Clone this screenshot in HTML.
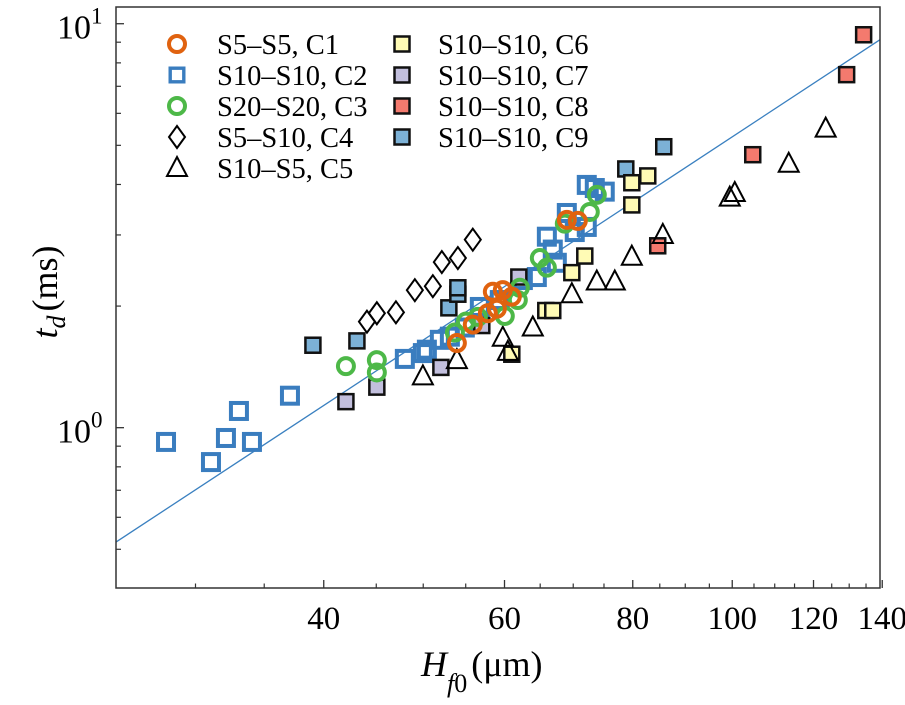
<!DOCTYPE html>
<html><head><meta charset="utf-8"><style>
html,body{margin:0;padding:0;background:#fff;}
svg{display:block;font-family:"Liberation Serif",serif;}
</style></head><body>
<svg id="chart" width="905" height="705" viewBox="0 0 905 705" xmlns="http://www.w3.org/2000/svg">
<rect x="0" y="0" width="905" height="705" fill="#fff"/>
<g id="marks"></g>
<g id="axes"></g>
<g id="legend"></g>
<text x="421" y="676" font-size="36" font-style="italic">H<tspan font-size="26" dy="16">f</tspan><tspan font-size="26" font-style="normal">0</tspan><tspan dy="-16" font-style="normal" dx="4">(μm)</tspan></text>
<text transform="translate(57,292) rotate(-90)" text-anchor="middle" font-size="36"><tspan font-style="italic">t</tspan><tspan font-style="italic" font-size="26" dy="8">d</tspan><tspan dy="-8" dx="4">(ms)</tspan></text>
</svg>
<script>
// ---- data ----
const xDomain = [25.1, 139.3];
const yDomain = [0.401, 11.0];
const xTickLabels = [40, 60, 80, 100, 120, 140];
const xMinorTicks = [30, 35, 45, 50, 55, 65, 70, 75, 85, 90, 95, 105, 110, 115, 125, 130, 135];
const yTickLabels = [1, 10];
const yMinorTicks = [0.5, 0.6, 0.7, 0.8, 0.9, 2, 3, 4, 5, 6, 7, 8, 9];
const fitX = [25.1, 139.3];
const fitY = [0.521, 9.13];

const c1X = [53.92, 55.88, 57.80, 58.98, 58.45, 59.77, 60.99, 69.00, 70.72];
const c1Y = [1.62, 1.80, 1.92, 1.97, 2.17, 2.19, 2.11, 3.27, 3.25];
const c2X = [28.08, 31.06, 32.12, 33.07, 34.05, 37.08, 47.98, 49.96, 51.90, 50.41, 53.08, 54.89, 56.77, 59.37, 62.52, 64.51, 67.47, 66.86, 65.98, 69.00, 72.16, 72.16, 75.13, 73.47, 70.24];
const c2Y = [0.922, 0.822, 0.943, 1.10, 0.922, 1.20, 1.48, 1.53, 1.65, 1.56, 1.68, 1.77, 1.99, 2.07, 2.32, 2.36, 2.56, 2.76, 2.97, 3.40, 3.14, 3.99, 3.84, 3.92, 3.05];
const c3X = [42.04, 45.06, 45.06, 53.68, 55.02, 56.52, 60.04, 61.82, 62.10, 64.95, 65.98, 68.69, 72.65, 73.80];
const c3Y = [1.42, 1.47, 1.37, 1.72, 1.83, 1.88, 1.89, 2.07, 2.22, 2.63, 2.49, 3.20, 3.42, 3.77];
const c4X = [44.07, 45.06, 47.03, 49.07, 51.09, 52.13, 54.04, 55.88];
const c4Y = [1.83, 1.92, 1.93, 2.19, 2.24, 2.57, 2.63, 2.92];
const c5X = [49.96, 53.92, 59.77, 60.45, 63.93, 69.78, 73.80, 76.84, 79.83, 85.58, 99.45, 100.57, 113.51, 123.32];
const c5Y = [1.34, 1.47, 1.67, 1.54, 1.77, 2.14, 2.30, 2.30, 2.65, 3.00, 3.71, 3.81, 4.50, 5.50];
const c6X = [60.99, 65.82, 66.86, 69.78, 71.84, 79.83, 79.83, 82.74];
const c6Y = [1.52, 1.95, 1.95, 2.42, 2.66, 3.56, 4.04, 4.20];
const c7X = [42.04, 45.06, 52.02, 57.02, 61.96];
const c7Y = [1.16, 1.26, 1.41, 1.79, 2.36];
const c8X = [84.61, 104.71, 129.26, 134.28];
const c8Y = [2.82, 4.74, 7.48, 9.39];
const c9X = [39.04, 43.09, 52.96, 54.04, 54.04, 78.76, 85.76];
const c9Y = [1.60, 1.64, 1.98, 2.14, 2.22, 4.37, 4.96];

// ---- layout ----
const L = 116, R = 880, T = 7, B = 588;
const NS = 'http://www.w3.org/2000/svg';
function sx(v){ return L + (Math.log(v) - Math.log(xDomain[0])) / (Math.log(xDomain[1]) - Math.log(xDomain[0])) * (R - L); }
function sy(v){ return B - (Math.log(v) - Math.log(yDomain[0])) / (Math.log(yDomain[1]) - Math.log(yDomain[0])) * (B - T); }
function mk(tag, attrs, parent){ const e = document.createElementNS(NS, tag); for (const k in attrs) e.setAttribute(k, attrs[k]); parent.appendChild(e); return e; }

const marks = document.getElementById('marks');
const axes = document.getElementById('axes');
const legend = document.getElementById('legend');

mk('clipPath', {id:'clip'}, marks);
mk('rect', {x:L, y:T, width:R-L, height:B-T}, document.getElementById('clip'));
const fit = mk('line', {x1:sx(fitX[0]), y1:sy(fitY[0]), x2:sx(fitX[1]), y2:sy(fitY[1]), stroke:'#3a80c0', 'stroke-width':1.3, 'clip-path':'url(#clip)'}, marks);



function drawMarker(kind, cx, cy, parent, size){
  let e;
  const s = size || 1;
  if (kind === 'c1' || kind === 'c3') {
    e = mk('circle', {cx:cx, cy:cy, r:8*s, fill:'none', stroke: kind==='c1' ? '#e0620f' : '#4db848', 'stroke-width':4*s}, parent);
  } else if (kind === 'c2') {
    const h = 8*s;
    e = mk('rect', {x:cx-h, y:cy-h, width:2*h, height:2*h, fill:'none', stroke:'#3a7dbf', 'stroke-width':4*s}, parent);
  } else if (kind === 'c4') {
    e = mk('polygon', {points:`${cx},${cy-11*s} ${cx+8*s},${cy} ${cx},${cy+11*s} ${cx-8*s},${cy}`, fill:'none', stroke:'#000', 'stroke-width':2}, parent);
  } else if (kind === 'c5') {
    e = mk('polygon', {points:`${cx},${cy-11*s} ${cx+10*s},${cy+8*s} ${cx-10*s},${cy+8*s}`, fill:'none', stroke:'#000', 'stroke-width':2}, parent);
  } else {
    const fills = {c6:'#fffbb5', c7:'#c2bfdd', c8:'#f47a6e', c9:'#7cb1d6'};
    const h = 7.5*s;
    e = mk('rect', {x:cx-h, y:cy-h, width:2*h, height:2*h, fill:fills[kind], stroke:'#111', 'stroke-width':2.5}, parent);
  }
  return e;
}

const series = [
  ['c2', c2X, c2Y], ['c9', c9X, c9Y], ['c7', c7X, c7Y], ['c6', c6X, c6Y], ['c8', c8X, c8Y],
  ['c4', c4X, c4Y], ['c5', c5X, c5Y], ['c3', c3X, c3Y], ['c1', c1X, c1Y]
];
series.forEach(([k, xs, ys]) => {
  const g = mk('g', {}, marks);
  
  
  xs.forEach((v, i) => {
    const m = drawMarker(k, sx(v), sy(ys[i]), g);
    
    
  });
});

const frame = mk('rect', {x:L, y:T, width:R-L, height:B-T, fill:'none', stroke:'#333', 'stroke-width':1.5}, axes);



xTickLabels.forEach(v => {
  const x = sx(v);
  const t = mk('line', {x1:x, y1:B, x2:x, y2:B-8, stroke:'#333', 'stroke-width':1.3}, axes);
  
  
  const lb = mk('text', {x:x, y:629, 'text-anchor':'middle', 'font-size':33, fill:'#000'}, axes);
  lb.textContent = String(v);
  
  
});
xMinorTicks.forEach(v => {
  const x = sx(v);
  const t = mk('line', {x1:x, y1:B, x2:x, y2:B-4.5, stroke:'#333', 'stroke-width':1.2}, axes);
  
  
});
yTickLabels.forEach(v => {
  const y = sy(v);
  const t = mk('line', {x1:L, y1:y, x2:L+8, y2:y, stroke:'#333', 'stroke-width':1.3}, axes);
  
  
  const lb = mk('text', {x:57, y:y+15, 'font-size':34, fill:'#000'}, axes);
  lb.innerHTML = '10<tspan font-size="23" dy="-15">' + Math.round(Math.log10(v)) + '</tspan>';
  
  
});
yMinorTicks.forEach(v => {
  const y = sy(v);
  const t = mk('line', {x1:L, y1:y, x2:L+5, y2:y, stroke:'#333', 'stroke-width':1.2}, axes);
  
  
});

const legendLabels = ['S5–S5, C1','S10–S10, C2','S20–S20, C3','S5–S10, C4','S10–S5, C5','S10–S10, C6','S10–S10, C7','S10–S10, C8','S10–S10, C9'];
const legendKeys = ['c1','c2','c3','c4','c5','c6','c7','c8','c9'];
const rowY = [44, 75, 106, 137, 168];
legendKeys.forEach((k, i) => {
  const col = i < 5 ? 0 : 1;
  const row = i < 5 ? i : i - 5;
  const mx = col ? 402 : 177, tx = col ? 438 : 217, y = rowY[row];
  const g = mk('g', {}, legend);
  
  
  drawMarker(k, mx, y, g, (k==='c2') ? 0.85 : 1.0);
  const t = mk('text', {x:tx, y:y+10, 'font-size':28.5, fill:'#000'}, g);
  t.textContent = legendLabels[i];
});
</script>
</body></html>
